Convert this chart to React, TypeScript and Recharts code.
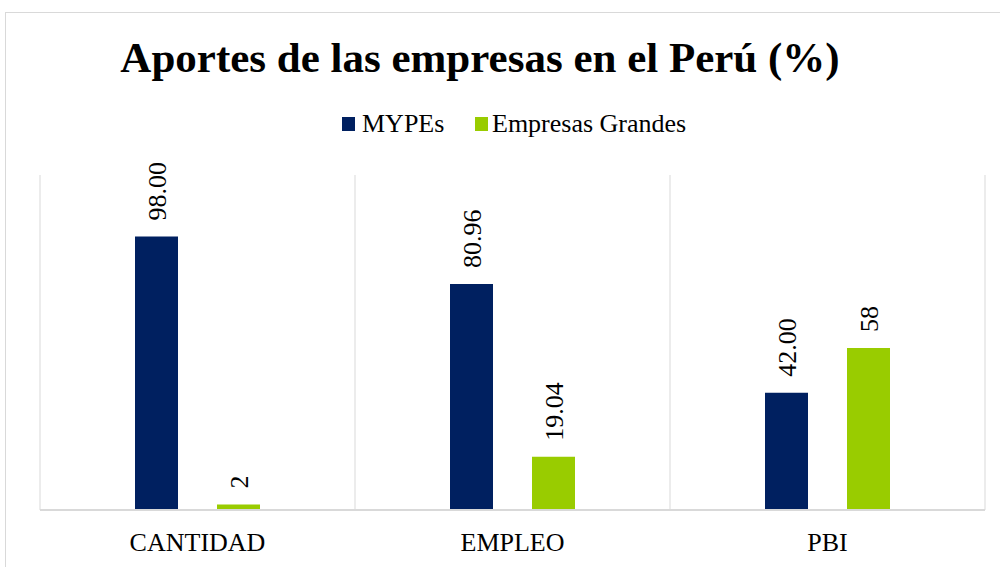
import React from "react";
import { BarChart, Bar, XAxis, YAxis, CartesianGrid, Legend, LabelList } from "recharts";

const categories = ["CANTIDAD", "EMPLEO", "PBI"];
const mypesValues = [98.0, 80.96, 42.0];
const grandesValues = [2, 19.04, 58];
const mypesLabels = ["98.00", "80.96", "42.00"];
const grandesLabels = ["2", "19.04", "58"];
const seriesNames = ["MYPEs", "Empresas Grandes"];
const seriesColors = ["#002060", "#99CC00"];
const titleText = "Aportes de las empresas en el Perú (%)";

const data = categories.map((c, i) => ({
  name: c,
  mypes: mypesValues[i],
  grandes: grandesValues[i],
}));

const FONT = "'Liberation Serif', 'Times New Roman', serif";
const serifStyle = { fontFamily: FONT };

const makeLabel = (labels: string[]) => (props: any) => {
  const { x, y, width, index } = props;
  const cx = Number(x) + Number(width) / 2 + 1;
  const cy = Number(y) - 16;
  return (
    <text
      x={cx}
      y={cy}
      transform={`rotate(-90 ${cx} ${cy})`}
      textAnchor="start"
      dominantBaseline="central"
      fontSize={26}
      fontFamily={FONT}
      style={serifStyle}
      fill="#000"
    >
      {labels[index]}
    </text>
  );
};

const CustomTick = (props: any) => {
  const { x, y, payload } = props;
  return (
    <text x={x} y={Number(y) + 41} textAnchor="middle" fontSize={26} fontFamily={FONT} style={serifStyle} fill="#000">
      {payload.value}
    </text>
  );
};

const LegendContent = () => {
  const items = [
    { name: seriesNames[0], color: seriesColors[0], x: 342, tx: 362 },
    { name: seriesNames[1], color: seriesColors[1], x: 475, tx: 492 },
  ];
  return (
    <svg width={1000} height={40} style={{ display: "block", fontFamily: FONT }}>
      {items.map((it) => (
        <g key={it.name}>
          <rect x={it.x} y={9} width={13} height={14} fill={it.color} />
          <text x={it.tx} y={24} fontSize={26} fontFamily={FONT} style={serifStyle} fill="#000">
            {it.name}
          </text>
        </g>
      ))}
    </svg>
  );
};

export default function App() {
  return (
    <div style={{ position: "absolute", left: 0, top: 0, width: 1000, height: 567, background: "#fff", overflow: "hidden", fontFamily: FONT }}>
      <div
        style={{
          position: "absolute",
          left: 5,
          top: 12,
          width: 1100,
          height: 700,
          border: "1px solid #d9d9d9",
          boxSizing: "border-box",
        }}
      />
      <svg width={1000} height={100} style={{ position: "absolute", left: 0, top: 0 }}>
        <text x={480} y={72} textAnchor="middle" fontSize={43} fontWeight="bold" fontFamily={FONT} style={serifStyle} fill="#000">
          {titleText}
        </text>
      </svg>
      <div style={{ position: "absolute", left: 0, top: 0 }}>
        <BarChart
          width={1000}
          height={567}
          data={data}
          margin={{ top: 175, right: 15, left: 40, bottom: 17 }}
          barSize={43}
          barGap={39}
          style={serifStyle}
        >
          <CartesianGrid
            horizontal={false}
            vertical={true}
            stroke="#d9d9d9"
            verticalCoordinatesGenerator={(p: any) => {
              const o = p.offset;
              return [0, 1, 2, 3].map((i) => o.left + (i * o.width) / 3);
            }}
          />
          <XAxis
            dataKey="name"
            height={40}
            tickSize={0}
            tickMargin={0}
            tickLine={false}
            axisLine={{ stroke: "#d9d9d9", strokeWidth: 2 }}
            tick={<CustomTick />}
            interval={0}
          />
          <YAxis hide domain={[0, 120]} />
          <Legend
            layout="horizontal"
            verticalAlign="middle"
            align="center"
            content={<LegendContent />}
            wrapperStyle={{ position: "absolute", top: 108, left: 0, width: 1000 }}
          />
          <Bar dataKey="mypes" name={seriesNames[0]} fill={seriesColors[0]} isAnimationActive={false}>
            <LabelList dataKey="mypes" content={makeLabel(mypesLabels)} />
          </Bar>
          <Bar dataKey="grandes" name={seriesNames[1]} fill={seriesColors[1]} isAnimationActive={false}>
            <LabelList dataKey="grandes" content={makeLabel(grandesLabels)} />
          </Bar>
        </BarChart>
      </div>
    </div>
  );
}
